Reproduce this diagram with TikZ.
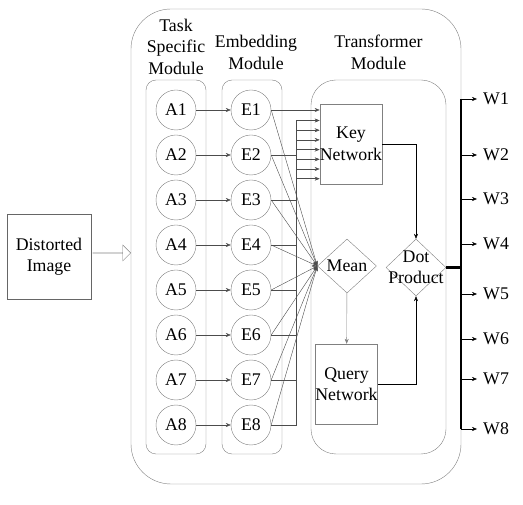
\documentclass[tikz,border=0pt]{standalone}
\usepackage{fontspec}
\setmainfont{Liberation Serif}
\usetikzlibrary{shapes.geometric,shapes.arrows,arrows.meta,calc}

\begin{document}
\begin{tikzpicture}[x=1pt, y=-1pt, font=\fontsize{17.8}{21.5}\selectfont,
    unit/.style={circle, draw=gray, minimum size=40pt, inner sep=0pt},
    net/.style={rectangle, draw=gray, align=center, inner sep=0pt},
    op/.style={diamond, draw=gray, inner sep=0pt},
    link/.style={draw=black!70, -{Stealth[length=5pt, width=4pt]}},
    module/.style={draw=gray, rounded corners=#1}]
    \useasboundingbox (0,0) rectangle (523,505);
    \draw[module=40] (131,9) rectangle (461,484);
    \draw[module=10] (146,80) rectangle (206,454);
    \draw[module=10] (222,80) rectangle (282,454);
    \draw[module=25] (311,80) rectangle (446,454);
    \node[align=center] (tasklbl) at (176,46.5) {Task\\Specific\\Module};
    \node[align=center] (emblbl) at (256,52.5) {Embedding\\Module};
    \node[align=center] (trflbl) at (378.5,52.5) {Transformer\\Module};
    \node[rectangle, draw=black!60, minimum width=84pt, minimum height=85pt, align=center] (img) at (49,256.5) {Distorted\\Image};
    \node[single arrow, draw=gray, minimum height=38pt, minimum width=16pt,
      single arrow head extend=5.5pt, inner sep=0pt, anchor=tip] (feed) at (131,253) {};
    \foreach \i in {1,...,8} {
      \node[unit] (a\i) at (176,{65+45*\i}) {A\i};
      \node[unit] (e\i) at (251,{65+45*\i}) {E\i};
      \draw[link] (a\i) -- (e\i);
    }
    \node[net, minimum width=60pt, minimum height=80pt] (key) at (351,144) {Key\\Network};
    \node[net, minimum width=61pt, minimum height=80pt] (query) at (346.5,384) {Query\\Network};
    \node[op, minimum width=59pt, minimum height=54pt] (mean) at (347,266) {Mean};
    \node[op, minimum width=60pt, minimum height=57pt,
      label={[align=center]center:Dot\\Product}] (dot) at (416,267.5) {};
    \draw[link] (e1) -- (e1 -| key.west);
    \foreach \i in {2,...,8}
      \draw[link] (e\i.east) -- ++(25,0) |- ($(key.north west)+(0,{7+(\i-1)*9.7})$);
    \foreach \i in {1,...,8}
      \draw[link] (e\i.east) -- (mean.west);
    \draw[link, draw=gray] (mean) -- (query);
    \draw[link, draw=black] (key.east) -| (dot.north);
    \draw[link, draw=black] (query.east) -| (dot.south);
    \coordinate (bus) at (461,267.5);
    \draw[line width=2.5pt] (dot.east) -- (bus);
    \foreach \i/\y in {1/99,2/155,3/199,4/244,5/294,6/339,7/379,8/429} {
      \coordinate (t\i) at (461,\y);
      \node[anchor=west, inner xsep=6pt] (w\i) at (477,\y) {W\i};
      \draw[link, draw=black] (t\i) -- (w\i.west);
    }
    \draw[line width=1.8pt] (t1) -- (t8);
\end{tikzpicture}
\end{document}
